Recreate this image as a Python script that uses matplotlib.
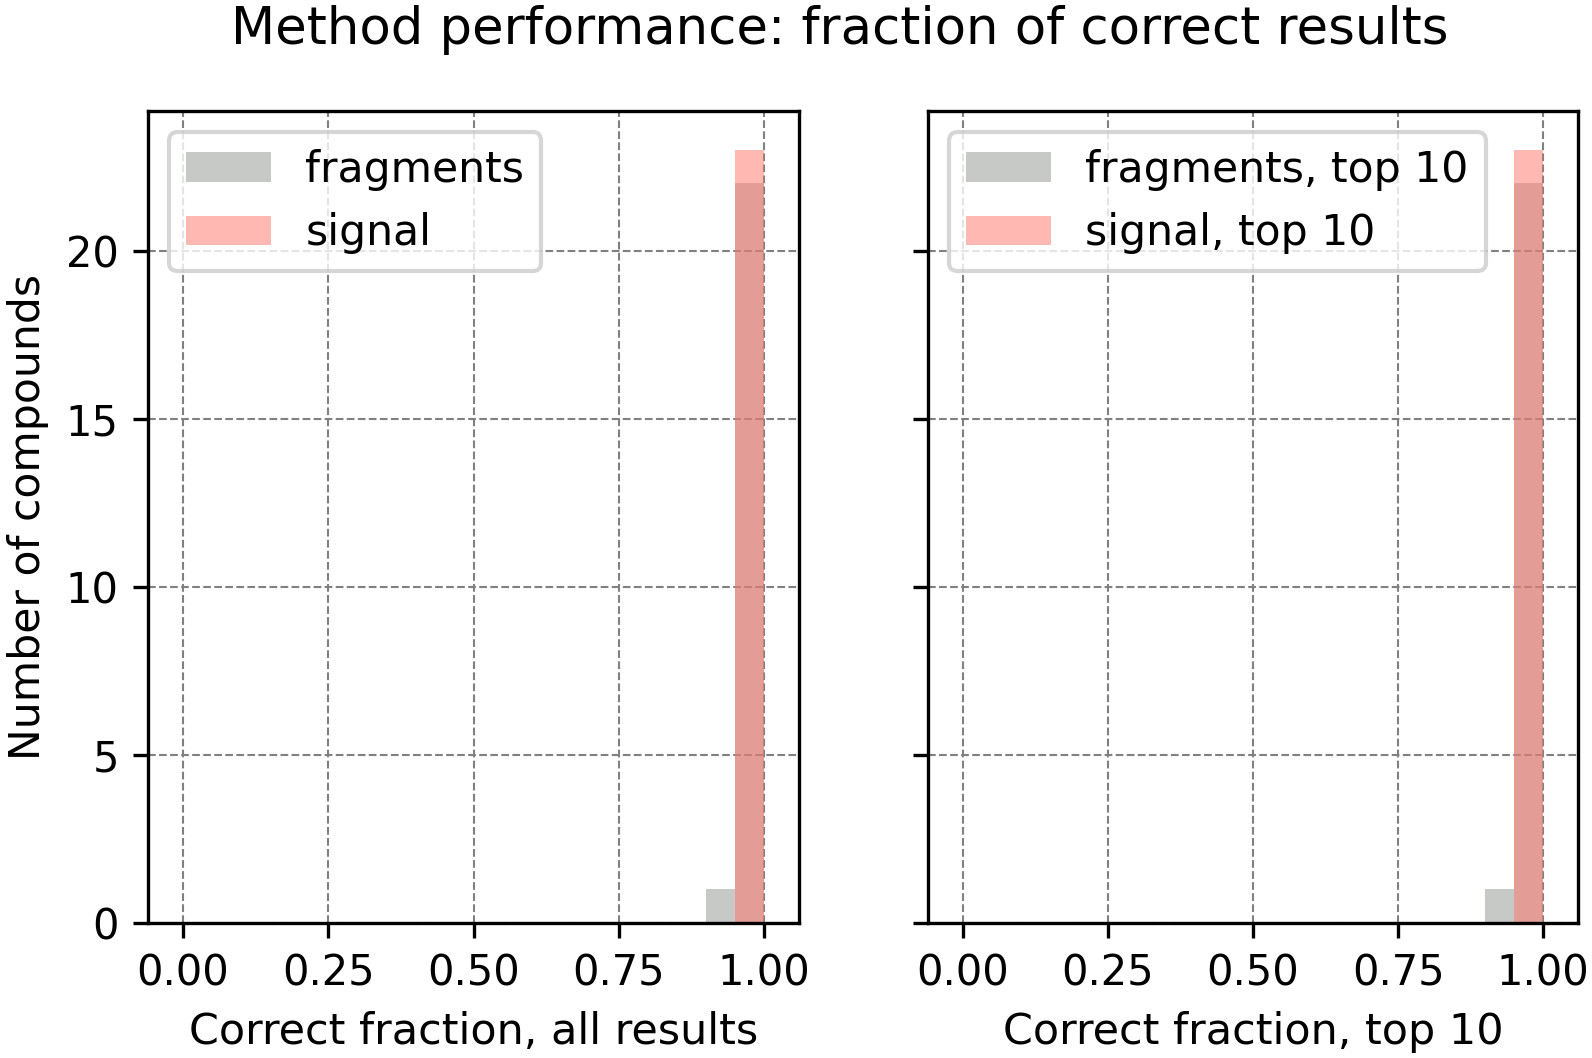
import matplotlib
matplotlib.use("Agg")
import matplotlib.pyplot as plt
import numpy as np

bin_edges = np.linspace(0, 1, 21)
bin_lefts = bin_edges[:-1]
# counts per bin (20 bins of width 0.05)
frag_all = np.zeros(20); frag_all[18] = 1; frag_all[19] = 22
sig_all = np.zeros(20); sig_all[19] = 23
frag_top = np.zeros(20); frag_top[18] = 1; frag_top[19] = 22
sig_top = np.zeros(20); sig_top[19] = 23

frag_color = (145/255, 149/255, 145/255)
sig_color = (1.0, 115/255, 103/255)

fig = plt.figure(figsize=(5.31, 3.5267), dpi=300)
ax1 = fig.add_axes([0.0929, 0.1276, 0.5016 - 0.0929, 0.8951 - 0.1276])
ax2 = fig.add_axes([0.5825, 0.1276, 0.9906 - 0.5825, 0.8951 - 0.1276], sharey=ax1)

panels = [
    (ax1, frag_all, sig_all, "fragments", "signal", "Correct fraction, all results"),
    (ax2, frag_top, sig_top, "fragments, top 10", "signal, top 10", "Correct fraction, top 10"),
]
for ax, f, s, lf, ls, xl in panels:
    ax.bar(bin_lefts, f, width=0.05, align="edge", color=frag_color, alpha=0.5, label=lf, linewidth=0)
    ax.bar(bin_lefts, s, width=0.05, align="edge", color=sig_color, alpha=0.5, label=ls, linewidth=0)
    ax.set_xlim(-0.06, 1.06)
    ax.set_xticks([0, 0.25, 0.5, 0.75, 1.0])
    ax.set_xticklabels(["0.00", "0.25", "0.50", "0.75", "1.00"])
    ax.grid(True, linestyle="--", color="grey", linewidth=0.5)
    ax.set_axisbelow(True)
    ax.tick_params(labelsize=10)
    ax.set_xlabel(xl, fontsize=10.3)
    leg = ax.legend(loc="upper left", fontsize=10.2, handlelength=2.0)
    leg.get_frame().set_linewidth(1.0)

ax1.set_ylim(0, 24.15)
ax1.set_yticks([0, 5, 10, 15, 20])
ax1.set_ylabel("Number of compounds", fontsize=10.2)
plt.setp(ax2.get_yticklabels(), visible=False)

fig.suptitle("Method performance: fraction of correct results", fontsize=12.3, x=0.527, y=0.995)
fig.savefig("out.png", dpi=300)
